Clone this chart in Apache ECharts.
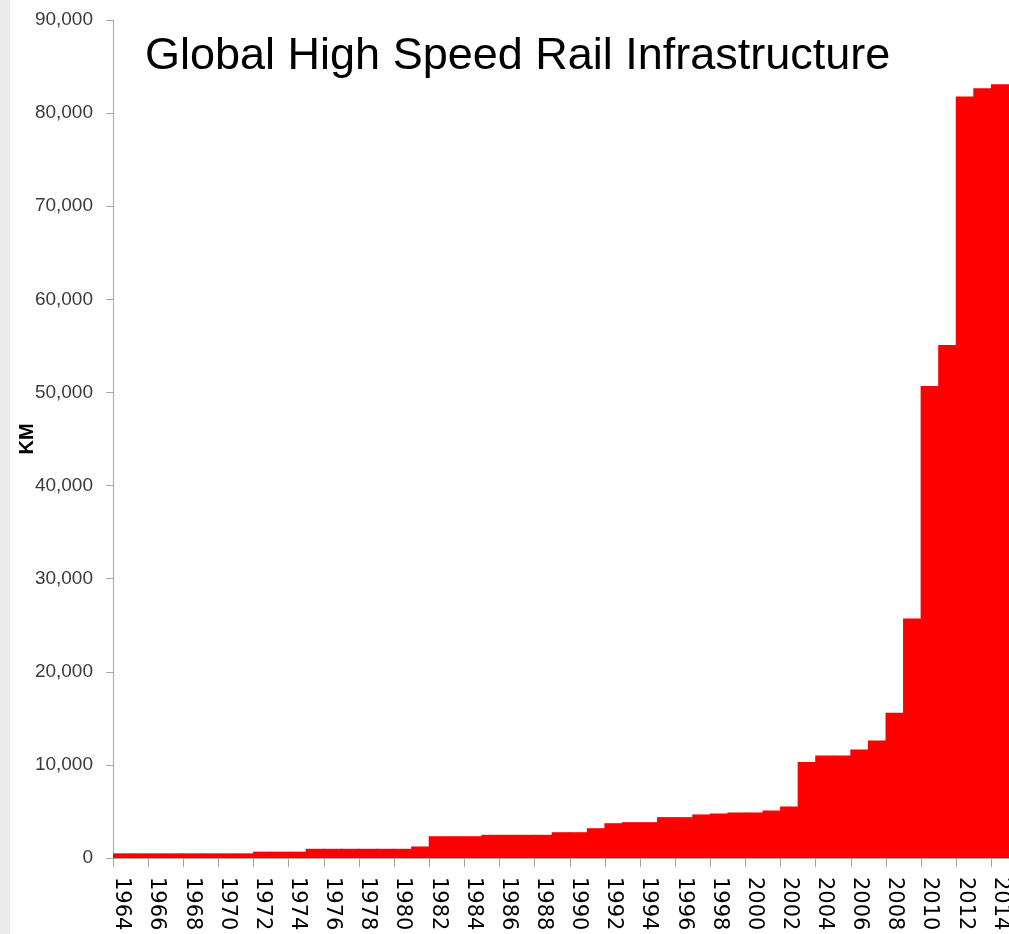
<!DOCTYPE html>
<html>
<head>
<meta charset="utf-8">
<script src="https://cdn.jsdelivr.net/npm/echarts@6/dist/echarts.min.js"></script>
<style>
html,body{margin:0;padding:0;background:#fff;}
#chart{width:1009px;height:934px;}
</style>
</head>
<body>
<div id="chart"></div>
<script>
const years = ['1964','1965','1966','1967','1968','1969','1970','1971','1972','1973','1974','1975','1976','1977','1978','1979','1980','1981','1982','1983','1984','1985','1986','1987','1988','1989','1990','1991','1992','1993','1994','1995','1996','1997','1998','1999','2000','2001','2002','2003','2004','2005','2006','2007','2008','2009','2010','2011','2012','2013','2014'];
const km = [500,500,500,500,500,500,500,500,680,680,680,990,990,990,990,990,990,1240,2340,2340,2340,2490,2490,2490,2490,2770,2770,3200,3740,3850,3850,4390,4390,4680,4780,4890,4890,5100,5540,10300,11020,11020,11660,12630,15610,25710,50680,55100,81780,82680,83110];
const titleText = 'Global High Speed Rail Infrastructure';
const yName = 'KM';

const chart = echarts.init(document.getElementById('chart'));
chart.setOption({
  backgroundColor: '#ffffff',
  animation: false,
  graphic: [{
    type: 'rect', left: 0, top: 0, z: -1,
    shape: {x: 0, y: 0, width: 10, height: 934},
    style: {fill: '#ebebeb'}
  }],
  title: {
    text: titleText,
    left: 140, top: 29,
    textStyle: {fontFamily: 'Liberation Sans, Arial, sans-serif', fontSize: 45, fontWeight: 'normal', color: '#000'}
  },
  grid: {left: 113, right: 0, top: 20, bottom: 76, containLabel: false, outerBoundsMode: 'none'},
  xAxis: {
    type: 'category',
    data: years,
    boundaryGap: true,
    axisLine: {show: true, lineStyle: {color: '#a6a6a6'}},
    axisTick: {show: true, interval: 1, length: 9, lineStyle: {color: '#a6a6a6'}},
    axisLabel: {interval: 1, rotate: -90, margin: 19, color: '#000', fontFamily: 'DejaVu Sans, sans-serif', fontSize: 21}
  },
  yAxis: {
    type: 'value',
    min: 0, max: 90000, interval: 10000,
    name: yName,
    nameLocation: 'middle',
    nameGap: 76,
    nameRotate: 90,
    nameMoveOverlap: false,
    nameTextStyle: {fontFamily: 'Liberation Sans, Arial, sans-serif', fontWeight: 'bold', fontSize: 20, color: '#000'},
    axisLine: {show: true, lineStyle: {color: '#a6a6a6'}},
    axisTick: {show: true, length: 7, lineStyle: {color: '#a6a6a6'}},
    splitLine: {show: false},
    axisLabel: {
      margin: 20, color: '#3a3a3a',
      fontFamily: 'Liberation Sans, Arial, sans-serif', fontSize: 19,
      formatter: v => v.toLocaleString('en-US')
    }
  },
  series: [{
    type: 'bar',
    data: km,
    barWidth: '106%',
    itemStyle: {color: '#ff0000'}
  }]
});
</script>
</body>
</html>
